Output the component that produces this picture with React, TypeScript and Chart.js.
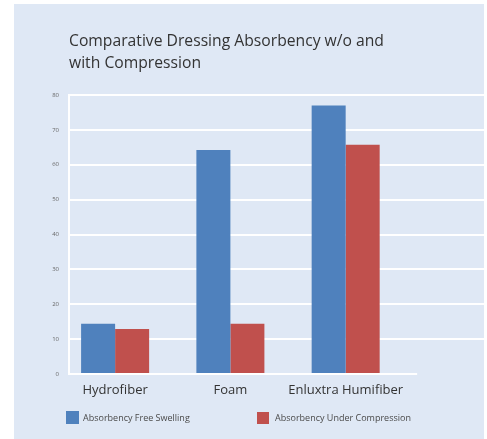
import React, { useEffect, useRef } from 'react';
import { Chart, registerables } from 'chart.js';

Chart.register(...registerables);

const categories = ['Hydrofiber', 'Foam', 'Enluxtra Humifiber'];
const freeSwelling = [14.4, 64.2, 77];
const underCompression = [12.9, 14.4, 65.7];
const seriesNames = ['Absorbency Free Swelling', 'Absorbency Under Compression'];
const seriesColors = ['#4f81bd', '#c0504d'];
const titleLines = ['Comparative Dressing Absorbency w/o and', 'with Compression'];
const yMin = 0;
const yMax = 80;
const yStep = 10;

const FONT = '"Open Sans", "Noto Sans", sans-serif';
const PANEL = '#dfe8f5';

const baselinePlugin = {
  id: 'baseline',
  afterDatasetsDraw(chart: any) {
    const { ctx, scales, chartArea } = chart;
    const y = scales.y.getPixelForValue(0);
    const xEnd = scales.x.getPixelForValue(2.62);
    ctx.save();
    ctx.strokeStyle = '#ffffff';
    ctx.lineWidth = 2;
    ctx.beginPath();
    ctx.moveTo(chartArea.left - 1, y);
    ctx.lineTo(xEnd, y);
    ctx.stroke();
    ctx.restore();
  },
};

const legendPlugin = {
  id: 'customLegend',
  afterDraw(chart: any) {
    const { ctx } = chart;
    const slots = [
      { x: 66, y: 411, size: 13, tx: 83 },
      { x: 257, y: 412, size: 12, tx: 275 },
    ];
    ctx.save();
    chart.data.datasets.forEach((ds: any, i: number) => {
      const s = slots[i];
      ctx.fillStyle = ds.backgroundColor;
      ctx.fillRect(s.x, s.y, s.size, s.size);
      ctx.fillStyle = '#4a4a4a';
      ctx.font = `9px ${FONT}`;
      ctx.textBaseline = 'middle';
      ctx.textAlign = 'left';
      ctx.fillText(ds.label, s.tx, 418.5);
    });
    ctx.restore();
  },
};

export default function App() {
  const ref = useRef<HTMLCanvasElement>(null);

  useEffect(() => {
    if (!ref.current) return;
    const chart = new Chart(ref.current, {
      type: 'bar',
      data: {
        datasets: [
          {
            label: seriesNames[0],
            data: freeSwelling.map((v, i) => ({ x: i, y: v })),
            backgroundColor: seriesColors[0],
            borderWidth: 0,
          },
          {
            label: seriesNames[1],
            data: underCompression.map((v, i) => ({ x: i, y: v })),
            backgroundColor: seriesColors[1],
            borderWidth: 0,
          },
        ],
      },
      options: {
        responsive: false,
        animation: false,
        devicePixelRatio: 1,
        datasets: { bar: { categoryPercentage: 0.59, barPercentage: 1.0 } },
        layout: { padding: { left: 0, right: 3, top: 0, bottom: 0 } },
        plugins: {
          legend: { display: false },
          tooltip: { enabled: false },
          title: {
            display: true,
            text: titleLines,
            align: 'start',
            fullSize: false,
            color: '#333333',
            font: { family: FONT, size: 15.7, weight: 'normal', lineHeight: 22 / 15.7 },
            padding: { top: 31, bottom: 20 },
          },
        },
        scales: {
          x: {
            type: 'linear',
            min: -0.4,
            max: 3.2,
            bounds: 'data',
            offset: false,
            grid: { display: false, offset: false },
            border: { display: false },
            afterBuildTicks: (scale: any) => {
              scale.ticks = categories.map((_, i) => ({ value: i }));
            },
            afterFit: (scale: any) => {
              scale.height = 65;
            },
            ticks: {
              autoSkip: false,
              maxRotation: 0,
              padding: 0,
              color: '#333333',
              font: { family: FONT, size: 13 },
              callback: (v: any) => categories[v as number] ?? '',
            },
          },
          y: {
            min: yMin,
            max: yMax,
            grid: {
              color: (c: any) => (c.tick && c.tick.value === 0 ? 'rgba(0,0,0,0)' : '#ffffff'),
              lineWidth: 2,
              drawTicks: false,
            },
            border: { display: true, color: '#ffffff', width: 2 },
            afterFit: (scale: any) => {
              scale.width = 69;
            },
            ticks: {
              stepSize: yStep,
              padding: 10,
              color: '#666666',
              font: { family: FONT, size: 6 },
            },
          },
        },
      },
      plugins: [baselinePlugin, legendPlugin],
    });
    return () => chart.destroy();
  }, []);

  return (
    <div style={{ position: 'fixed', left: 0, top: 0, width: 487, height: 439, background: '#ffffff' }}>
      <div style={{ position: 'absolute', left: 14, top: 4, width: 470, height: 435, background: PANEL }} />
      <canvas
        ref={ref}
        width={487}
        height={439}
        style={{ position: 'absolute', left: 0, top: 0, width: 487, height: 439 }}
      />
    </div>
  );
}
